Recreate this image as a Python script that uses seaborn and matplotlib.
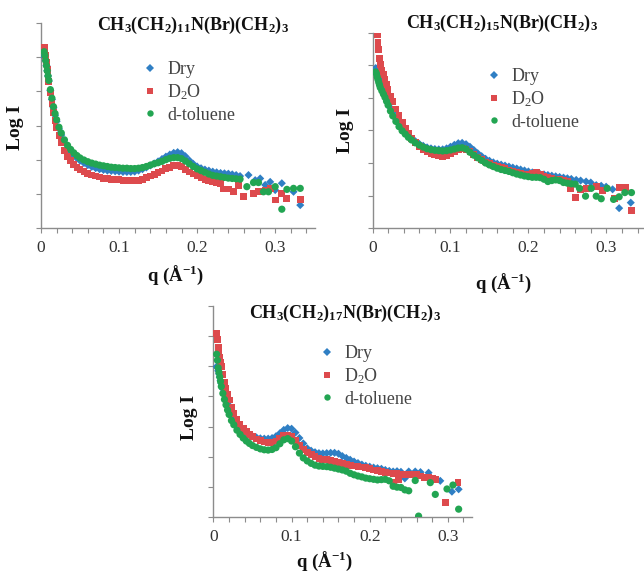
import numpy as np
import pandas as pd
import matplotlib
matplotlib.use("Agg")
import matplotlib.pyplot as plt
from matplotlib.lines import Line2D
import seaborn as sns

nan = np.nan

# ---------------- data ----------------
# shared q grid for the dense part of every curve (Å^-1)
q_grid = [0.004, 0.005, 0.006, 0.007, 0.008, 0.009, 0.010, 0.012, 0.014, 0.016,
          0.018, 0.020, 0.023, 0.026, 0.030, 0.034, 0.038, 0.042, 0.046, 0.050,
          0.055, 0.060, 0.065, 0.070, 0.075, 0.080, 0.085, 0.090, 0.095, 0.100,
          0.105, 0.110, 0.115, 0.120, 0.125, 0.130, 0.135, 0.140, 0.145, 0.150,
          0.155, 0.160, 0.165, 0.170, 0.175, 0.180, 0.185, 0.190, 0.195, 0.200,
          0.205, 0.210, 0.215, 0.220, 0.225, 0.230, 0.235, 0.240, 0.245, 0.250]

# Panel 1: CH3(CH2)11N(Br)(CH2)3
p1_dry = [5.05, 4.98, 4.90, 4.75, 4.60, 4.45, 4.30, 4.02, 3.76, 3.52,
          3.30, 3.12, 2.90, 2.72, 2.50, 2.34, 2.22, 2.12, 2.04, 1.97,
          1.90, 1.84, 1.79, 1.75, 1.72, 1.70, 1.68, 1.67, 1.66, 1.65,
          1.64, 1.64, 1.64, 1.65, 1.68, 1.72, 1.77, 1.83, 1.89, 1.95,
          2.02, 2.09, 2.15, 2.20, 2.22, 2.19, 2.10, 1.98, 1.88, 1.80,
          1.75, 1.71, 1.68, 1.65, 1.63, 1.61, 1.60, 1.59, 1.57, 1.55]
p1_d2o = [5.30, 5.25, 5.05, 4.85, 4.65, 4.45, 4.28, 3.95, 3.65, 3.38,
          3.15, 2.95, 2.70, 2.50, 2.28, 2.10, 1.97, 1.86, 1.78, 1.72,
          1.65, 1.60, 1.55, 1.52, 1.49, 1.46, 1.44, 1.43, 1.42, 1.41,
          1.40, 1.39, 1.38, 1.38, 1.40, 1.43, 1.47, 1.52, 1.57, 1.62,
          1.67, 1.73, 1.78, 1.83, 1.84, 1.80, 1.72, 1.64, 1.58, 1.53,
          1.48, 1.43, 1.40, 1.37, 1.34, 1.30, nan, nan, nan, nan]
p1_tol = [5.16, 5.05, 4.90, 4.75, 4.60, 4.45, 4.32, 4.05, 3.80, 3.55,
          3.35, 3.17, 2.95, 2.78, 2.58, 2.42, 2.30, 2.20, 2.12, 2.05,
          1.99, 1.94, 1.90, 1.87, 1.84, 1.82, 1.80, 1.78, 1.77, 1.76,
          1.75, 1.75, 1.74, 1.74, 1.75, 1.77, 1.80, 1.84, 1.88, 1.91,
          1.95, 2.00, 2.04, 2.06, 2.06, 2.03, 1.96, 1.88, 1.80, 1.73,
          1.68, 1.63, 1.58, 1.54, 1.52, 1.50, 1.48, 1.46, 1.45, 1.44]
p1_dry_tail_q = [0.255, 0.2658, 0.2744, 0.2808, 0.2872, 0.2936, 0.300, 0.3085, 0.3235, 0.3321]
p1_dry_tail_y = [1.52, 1.55, 1.40, 1.45, 1.26, 1.35, 1.11, 1.31, 1.06, 0.67]
p1_d2o_tail_q = [0.2338, 0.2402, 0.2466, 0.2530, 0.2594, 0.2722, 0.2786, 0.2872, 0.2936, 0.300, 0.3085, 0.3150, 0.3321]
p1_d2o_tail_y = [1.14, 1.14, 1.06, 1.24, 0.92, 1.01, 1.06, 1.11, 1.16, 0.82, 1.01, 0.87, 0.84]
p1_tol_tail_q = [0.255, 0.2637, 0.2722, 0.2786, 0.2850, 0.2914, 0.300, 0.3085, 0.3150, 0.3235, 0.3321]
p1_tol_tail_y = [1.43, 1.21, 1.33, 1.33, 1.06, 1.06, 1.21, 0.55, 1.13, 1.16, 1.16]

# Panel 2: CH3(CH2)15N(Br)(CH2)3
p2_dry = [4.92, 4.90, 4.82, 4.74, 4.66, 4.58, 4.50, 4.36, 4.24, 4.12,
          4.00, 3.88, 3.70, 3.55, 3.36, 3.20, 3.06, 2.95, 2.85, 2.76,
          2.67, 2.59, 2.53, 2.48, 2.45, 2.43, 2.42, 2.42, 2.45, 2.50,
          2.56, 2.61, 2.62, 2.58, 2.50, 2.40, 2.30, 2.21, 2.13, 2.07,
          2.02, 1.98, 1.95, 1.92, 1.89, 1.86, 1.83, 1.80, 1.77, 1.74,
          1.71, 1.68, 1.66, 1.65, 1.63, 1.61, 1.59, 1.57, 1.55, 1.53]
p2_d2o = [nan, nan, 5.96, 5.71, 5.48, 5.22, 5.02, 4.85, 4.72, 4.58,
          4.42, 4.27, 4.06, 3.88, 3.66, 3.45, 3.26, 3.07, 2.90, 2.76,
          2.62, 2.50, 2.42, 2.36, 2.30, 2.26, 2.23, 2.21, 2.24, 2.29,
          2.36, 2.42, 2.44, 2.41, 2.35, 2.26, 2.17, 2.10, 2.03, 1.98,
          1.93, 1.89, 1.85, 1.82, 1.78, 1.74, 1.71, 1.68, 1.66, 1.66,
          1.68, 1.70, 1.66, 1.60, 1.55, 1.52, 1.50, 1.48, 1.46, 1.42]
p2_tol = [4.80, 4.75, 4.65, 4.57, 4.48, 4.40, 4.32, 4.22, 4.12, 4.02,
          3.90, 3.78, 3.60, 3.45, 3.28, 3.12, 2.99, 2.89, 2.79, 2.71,
          2.62, 2.55, 2.49, 2.44, 2.41, 2.39, 2.38, 2.37, 2.38, 2.40,
          2.43, 2.46, 2.47, 2.43, 2.33, 2.24, 2.16, 2.08, 2.00, 1.94,
          1.89, 1.84, 1.80, 1.77, 1.74, 1.70, 1.66, 1.63, 1.60, 1.58,
          1.56, 1.56, 1.55, 1.50, 1.43, 1.46, 1.48, 1.46, 1.40, 1.38]
p2_dry_tail_q = [0.255, 0.2613, 0.267, 0.274, 0.280, 0.287, 0.2934, 0.2997, 0.308, 0.3164, 0.3313]
p2_dry_tail_y = [1.51, 1.48, 1.46, 1.43, 1.40, 1.32, 1.30, 1.27, 1.19, 0.61, 0.78]
p2_d2o_tail_q = [0.254, 0.2605, 0.267, 0.2746, 0.2874, 0.2952, 0.3109, 0.3173, 0.3246, 0.3323]
p2_d2o_tail_y = [1.22, 0.93, 1.19, 1.22, 1.27, 1.16, 0.91, 1.25, 1.25, 0.53]
p2_tol_tail_q = [0.255, 0.260, 0.2655, 0.2733, 0.2806, 0.287, 0.2934, 0.3011, 0.3092, 0.3164, 0.3237, 0.3322]
p2_tol_tail_y = [1.36, 1.35, 1.22, 0.98, 1.22, 0.98, 0.90, 1.22, 0.88, 0.96, 1.09, 1.09]

# Panel 3: CH3(CH2)17N(Br)(CH2)3
p3_dry = [4.99, 4.95, 4.85, 4.75, 4.64, 4.53, 4.43, 4.25, 4.08, 3.92,
          3.78, 3.65, 3.47, 3.31, 3.14, 3.00, 2.89, 2.80, 2.73, 2.68,
          2.64, 2.61, 2.60, 2.60, 2.62, 2.68, 2.78, 2.89, 2.95, 2.93,
          2.80, 2.62, 2.44, 2.28, 2.20, 2.15, 2.12, 2.11, 2.12, 2.13,
          2.13, 2.10, 2.02, 1.96, 1.90, 1.84, 1.79, 1.74, 1.70, 1.67,
          1.64, 1.62, 1.60, 1.56, 1.53, 1.51, 1.52, 1.50, 1.28, 1.51]
p3_d2o = [6.10, 5.90, 5.62, 5.45, 5.28, 5.12, 4.99, 4.72, 4.47, 4.27,
          4.06, 3.88, 3.62, 3.43, 3.24, 3.07, 2.94, 2.83, 2.74, 2.67,
          2.59, 2.53, 2.49, 2.47, 2.48, 2.52, 2.62, 2.70, 2.72, 2.66,
          2.54, 2.38, 2.23, 2.13, 2.08, 2.00, 1.95, 1.92, 1.90, 1.87,
          1.84, 1.80, 1.77, 1.74, 1.71, 1.69, 1.68, 1.66, 1.63, 1.60,
          1.56, 1.53, 1.50, 1.48, 1.46, 1.45, 1.43, 1.42, 1.41, 1.40]
p3_tol = [5.40, 5.20, 4.95, 4.80, 4.65, 4.50, 4.33, 4.10, 3.90, 3.72,
          3.55, 3.40, 3.20, 3.06, 2.88, 2.74, 2.62, 2.52, 2.44, 2.37,
          2.31, 2.26, 2.23, 2.22, 2.24, 2.30, 2.43, 2.56, 2.60, 2.52,
          2.33, 2.12, 1.96, 1.86, 1.78, 1.72, 1.69, 1.68, 1.67, 1.65,
          1.62, 1.59, 1.56, 1.52, 1.45, 1.40, 1.36, 1.33, 1.29, 1.27,
          1.25, 1.23, 1.24, 1.25, 1.20, 1.02, 0.99, 0.98, 0.90, 0.87]
p3_dry_tail_q = [0.2583, 0.265, 0.2754, 0.2904, 0.3053, 0.3139]
p3_dry_tail_y = [1.51, 1.49, 1.47, 1.20, 0.84, 0.92]
p3_d2o_tail_q = [0.2305, 0.237, 0.255, 0.260, 0.265, 0.270, 0.275, 0.280, 0.285, 0.2968, 0.313]
p3_d2o_tail_y = [1.16, 1.25, 1.40, 1.41, 1.36, 1.32, 1.30, 1.27, 1.25, 0.48, 1.15]
p3_tol_tail_q = [0.2583, 0.2626, 0.2776, 0.284, 0.299, 0.3066, 0.3139]
p3_tol_tail_y = [1.21, 0.03, 1.14, 0.75, 0.93, 1.06, 0.26]

series_names = ["Dry", "D$_2$O", "d-toluene"]
titles = ["CH$_{\\mathbf{3}}$(CH$_{\\mathbf{2}}$)$_{\\mathbf{11}}$N(Br)(CH$_{\\mathbf{2}}$)$_{\\mathbf{3}}$",
          "CH$_{\\mathbf{3}}$(CH$_{\\mathbf{2}}$)$_{\\mathbf{15}}$N(Br)(CH$_{\\mathbf{2}}$)$_{\\mathbf{3}}$",
          "CH$_{\\mathbf{3}}$(CH$_{\\mathbf{2}}$)$_{\\mathbf{17}}$N(Br)(CH$_{\\mathbf{2}}$)$_{\\mathbf{3}}$"]
x_ticks = [0, 0.1, 0.2, 0.3]
x_ticklabels = ["0", "0.1", "0.2", "0.3"]

# ---------------- style ----------------
sns.set_theme(style="white")
plt.rcParams["font.family"] = ["Liberation Serif", "DejaVu Serif"]
plt.rcParams["mathtext.fontset"] = "custom"
plt.rcParams["mathtext.rm"] = "Liberation Serif"
plt.rcParams["mathtext.bf"] = "Liberation Serif:bold"
plt.rcParams["mathtext.it"] = "Liberation Serif:italic"

colors = {"Dry": "#2f7fc4", "D$_2$O": "#dd4a4d", "d-toluene": "#22a552"}
markers = {"Dry": "D", "D$_2$O": "s", "d-toluene": "o"}
sizes = {"Dry": 17, "D$_2$O": 24, "d-toluene": 27}

W, H = 644, 573
fig = plt.figure(figsize=(W / 100, H / 100), dpi=100)


def fx(x):
    return x / W


def fy(y):
    return 1 - y / H


def add_axes(left, right, top, bottom):
    return fig.add_axes([fx(left), fy(bottom), fx(right - left), (bottom - top) / H])


panels = [
    dict(ax=add_axes(41, 315, 23, 228), xmax=0.351, ymax=6,
         data=[(p1_dry, p1_dry_tail_q, p1_dry_tail_y),
               (p1_d2o, p1_d2o_tail_q, p1_d2o_tail_y),
               (p1_tol, p1_tol_tail_q, p1_tol_tail_y)],
         title_xy=(193, 25), ylab_xy=(15, 127), xlab_xy=(175, 275),
         leg_xy=(143, 61)),
    dict(ax=add_axes(372.5, 643, 33, 228), xmax=0.347, ymax=6,
         data=[(p2_dry, p2_dry_tail_q, p2_dry_tail_y),
               (p2_d2o, p2_d2o_tail_q, p2_d2o_tail_y),
               (p2_tol, p2_tol_tail_q, p2_tol_tail_y)],
         title_xy=(502, 23), ylab_xy=(345, 130), xlab_xy=(503, 283),
         leg_xy=(487, 68)),
    dict(ax=add_axes(213.5, 472, 306, 517), xmax=0.331, ymax=7,
         data=[(p3_dry, p3_dry_tail_q, p3_dry_tail_y),
               (p3_d2o, p3_d2o_tail_q, p3_d2o_tail_y),
               (p3_tol, p3_tol_tail_q, p3_tol_tail_y)],
         title_xy=(345, 313), ylab_xy=(190, 417), xlab_xy=(324, 561),
         leg_xy=(320, 345)),
]

axis_gray = "#8c8c8c"
text_gray = "#333333"

for i, p in enumerate(panels):
    ax = p["ax"]
    frames = []
    for name, (dense, tq, ty) in zip(series_names, p["data"]):
        d = pd.DataFrame({"q": list(q_grid) + list(tq), "logI": list(dense) + list(ty)})
        d["sample"] = name
        frames.append(d.dropna())
    df = pd.concat(frames, ignore_index=True)
    for name in series_names:
        sns.scatterplot(data=df[df["sample"] == name], x="q", y="logI", ax=ax,
                        color=colors[name], marker=markers[name], s=sizes[name],
                        linewidth=0, edgecolor="none", legend=False, zorder=3)
    ax.set_xlim(0, p["xmax"])
    ax.set_ylim(0, p["ymax"])
    ax.set_xlabel("")
    ax.set_ylabel("")
    ax.set_facecolor("white")
    for s in ["top", "right"]:
        ax.spines[s].set_visible(False)
    for s in ["left", "bottom"]:
        ax.spines[s].set_color(axis_gray)
        ax.spines[s].set_linewidth(1.0)
    ax.set_xticks(x_ticks)
    ax.set_xticklabels(x_ticklabels)
    ax.set_xticks(np.round(np.arange(0.02, p["xmax"], 0.02), 2), minor=True)
    ax.set_yticks(range(0, p["ymax"] + 1))
    ax.set_yticklabels([])
    ax.tick_params(axis="both", which="both", direction="out", length=3.5, width=0.8,
                   color=axis_gray, bottom=True, left=True)
    ax.tick_params(axis="x", which="major", labelsize=12.5, labelcolor=text_gray, pad=5)
    for lab in ax.get_xticklabels():
        lab.set_family("Liberation Serif")

    tx, ty_ = p["title_xy"]
    fig.text(fx(tx), fy(ty_), titles[i], ha="center", va="center", fontsize=13,
             fontweight="bold", color="#111111")
    lx, ly = p["ylab_xy"]
    fig.text(fx(lx), fy(ly), "Log I", ha="center", va="center", rotation=90,
             fontsize=14, fontweight="bold", color="#111111")
    qx, qy = p["xlab_xy"]
    fig.text(fx(qx), fy(qy), "q (Å$^{\\mathbf{-1}}$)", ha="center", va="center",
             fontsize=13.5, fontweight="bold", color="#111111")

    handles = [Line2D([], [], linestyle="none", marker=markers[n], color=colors[n],
                      markersize=4.2 if n == "Dry" else 4.6, markeredgewidth=0)
               for n in series_names]
    gx, gy = p["leg_xy"]
    leg = ax.legend(handles, series_names, loc="upper left",
                    bbox_to_anchor=(fx(gx), fy(gy)), bbox_transform=fig.transFigure,
                    frameon=False, borderpad=0, borderaxespad=0, handlelength=0.8,
                    handletextpad=0.55, labelspacing=0.25,
                    prop={"family": "Liberation Serif", "size": 13})
    for t in leg.get_texts():
        t.set_color("#444444")

fig.savefig("out.png", dpi=100, facecolor="white")
